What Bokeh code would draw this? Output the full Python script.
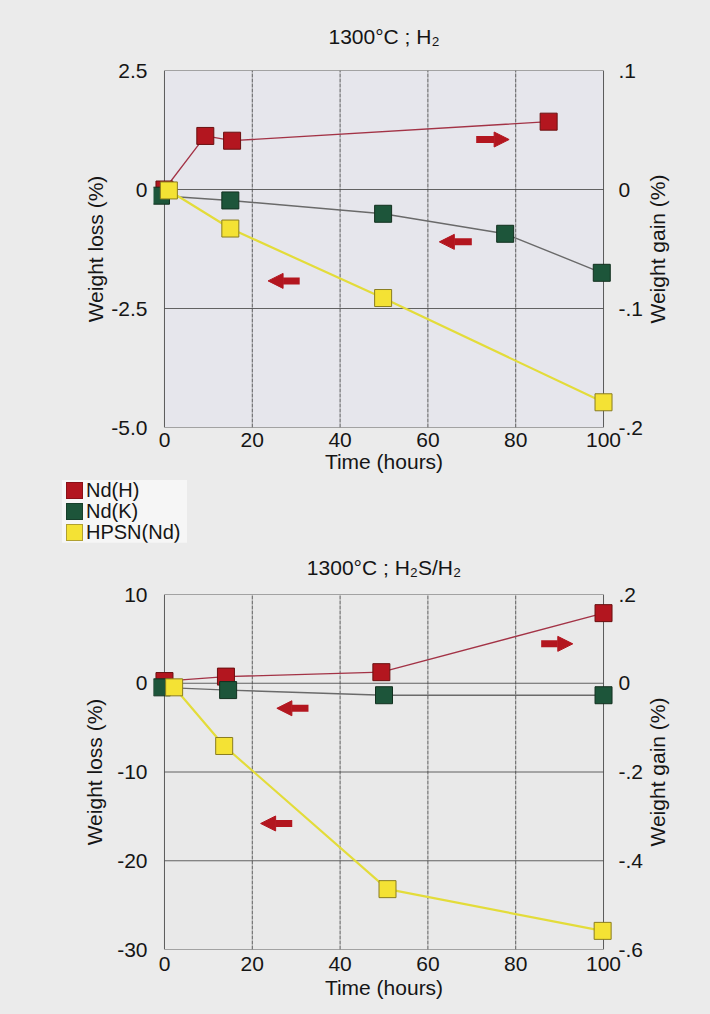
import math
from bokeh.plotting import figure
from bokeh.models import Range1d, LinearAxis, FixedTicker, Arrow, NormalHead, Div, Label
from bokeh.layouts import column
from bokeh.embed import file_html
from bokeh.resources import INLINE

# ---------------- data: panel 1 (1300°C ; H2) ----------------
h2_title = "1300°C ; H₂"
h2_ndh_t = [0, 9.3, 15.4, 87.5]
h2_ndh_gain = [0.0, 0.045, 0.041, 0.057]          # right axis, weight gain (%)
h2_ndk_t = [-0.8, 15, 49.8, 77.6, 99.6]
h2_ndk_loss = [-0.13, -0.23, -0.51, -0.93, -1.75]  # left axis, weight loss (%)
h2_hpsn_t = [1, 15, 49.8, 100]
h2_hpsn_loss = [-0.02, -0.82, -2.28, -4.47]
h2_left_ticks = [-5.0, -2.5, 0.0, 2.5]
h2_left_labels = ["-5.0", "-2.5", "0", "2.5"]
h2_right_ticks = [-0.2, -0.1, 0.0, 0.1]
h2_right_labels = ["-.2", "-.1", "0", ".1"]
# arrows: (x_start, x_end, y) in left-axis units
h2_arrows = [(71, 78.5, 1.05), (70, 62.6, -1.10), (30.8, 23.6, -1.92)]

# ---------------- data: panel 2 (1300°C ; H2S/H2) ----------------
h2s_title = "1300°C ; H₂S/H₂"
h2s_ndh_t = [0, 14, 49.4, 100]
h2s_ndh_gain = [0.005, 0.015, 0.025, 0.158]
h2s_ndk_t = [-0.6, 14.5, 50, 100]
h2s_ndk_loss = [-0.46, -0.77, -1.35, -1.35]
h2s_hpsn_t = [2.2, 13.6, 50.8, 99.8]
h2s_hpsn_loss = [-0.46, -7.07, -23.2, -27.9]
h2s_left_ticks = [-30, -20, -10, 0, 10]
h2s_left_labels = ["-30", "-20", "-10", "0", "10"]
h2s_right_ticks = [-0.6, -0.4, -0.2, 0.0, 0.2]
h2s_right_labels = ["-.6", "-.4", "-.2", "0", ".2"]
h2s_arrows = [(85.8, 93.0, 4.44), (32.8, 25.6, -2.82), (29.1, 21.9, -15.8)]

x_ticks = [0, 20, 40, 60, 80, 100]
series_names = ["Nd(H)", "Nd(K)", "HPSN(Nd)"]

RED = "#b3161f"
GREEN = "#1d553a"
YELLOW = "#f4e234"
series_fill = [RED, GREEN, YELLOW]
series_edge = ["#8a1118", "#173f2b", "#b0a030"]
FONT = "Liberation Sans"
BG = "#ebebeb"
TXT = "#151515"


def make_panel(title, ylim, rlim, lt, ll, rt, rl, ndh_t, ndh_g, ndk_t, ndk_l, hp_t, hp_l,
               arrows, height, min_top, min_bottom, title_standoff, frame_bg,
               xlab_standoff, xaxis_standoff, ylab_standoff):
    p = figure(width=710, height=height, output_backend="svg", toolbar_location=None,
               x_range=Range1d(-2.5, 102.5), y_range=Range1d(*ylim),
               min_border_left=153, min_border_right=96, min_border_top=min_top,
               min_border_bottom=min_bottom, background_fill_color=BG, border_fill_color=BG,
               outline_line_color=None)
    p.extra_y_ranges = {"gain": Range1d(*rlim)}
    p.title.text = title
    p.title.align = "center"
    p.title.vertical_align = "top"
    p.title.text_font = FONT
    p.title.text_font_size = "21px"
    p.title.text_font_style = "normal"
    p.title.text_color = TXT
    p.title.standoff = title_standoff

    p.xaxis.ticker = FixedTicker(ticks=x_ticks)
    p.xaxis.axis_label = "Time (hours)"
    p.yaxis.ticker = FixedTicker(ticks=lt)
    p.yaxis.major_label_overrides = {t: l for t, l in zip(lt, ll)}
    p.yaxis.axis_label = "Weight loss (%)"

    ra = LinearAxis(y_range_name="gain", ticker=FixedTicker(ticks=rt),
                    major_label_overrides={t: l for t, l in zip(rt, rl)})
    p.add_layout(ra, "right")

    for ax in p.xaxis + p.yaxis + [ra]:
        ax.axis_line_color = None
        ax.major_tick_out = 0
        ax.major_tick_in = 0
        ax.minor_tick_line_color = None
        ax.major_label_text_font = FONT
        ax.major_label_text_font_size = "21px"
        ax.major_label_text_color = TXT
        ax.axis_label_text_font = FONT
        ax.axis_label_text_font_size = "21px"
        ax.axis_label_text_font_style = "normal"
        ax.axis_label_text_color = TXT
    p.xaxis.major_label_standoff = xlab_standoff
    p.xaxis.axis_label_standoff = xaxis_standoff
    p.yaxis.major_label_standoff = 6
    p.yaxis.axis_label_standoff = ylab_standoff
    ra.major_label_standoff = 4
    p.grid.visible = False

    # right-hand axis title, reading bottom-to-top, centred on the frame
    p.add_layout(Label(x=11, y=(ylim[0] + ylim[1]) / 2, x_units="screen", y_units="data",
                       text="Weight gain (%)", angle=math.pi / 2, text_align="center",
                       text_baseline="middle", text_font=FONT, text_font_size="21px",
                       text_color=TXT), "right")

    # frame box and grid lines, drawn from the tick lists
    p.quad(left=[x_ticks[0]], right=[x_ticks[-1]], bottom=[lt[0]], top=[lt[-1]],
           fill_color=frame_bg, line_color="#5a5a5a", line_width=1, level="underlay")
    inner_x = x_ticks[1:-1]
    p.segment(x0=inner_x, x1=inner_x, y0=[lt[0]] * len(inner_x), y1=[lt[-1]] * len(inner_x),
              line_color="#4a4a4a", line_width=1, line_dash="4 1", line_alpha=0.9, level="underlay")
    inner_y = lt[1:-1]
    p.segment(x0=[x_ticks[0]] * len(inner_y), x1=[x_ticks[-1]] * len(inner_y), y0=inner_y, y1=inner_y,
              line_color="#4a4a4a", line_width=1, line_alpha=0.85, level="underlay")

    # lines
    p.line(ndh_t, ndh_g, y_range_name="gain", line_color="#a33346", line_width=1.3)
    p.line(ndk_t, ndk_l, line_color="#6a6a6a", line_width=1.4)
    p.line(hp_t, hp_l, line_color="#e3dc3a", line_width=2.2)
    # markers
    p.scatter(ndh_t, ndh_g, y_range_name="gain", marker="square", size=17,
              fill_color=RED, line_color="#6a1010")
    p.scatter(ndk_t, ndk_l, marker="square", size=17, fill_color=GREEN, line_color="#12301f")
    p.scatter(hp_t, hp_l, marker="square", size=17, fill_color=YELLOW, line_color="#8a7d20")

    for xs, xe, y in arrows:
        p.add_layout(Arrow(x_start=xs, x_end=xe, y_start=y, y_end=y, line_color=RED,
                           line_width=7,
                           end=NormalHead(size=15, fill_color=RED, line_color=RED, line_width=1)))
    return p


p1 = make_panel(h2_title, (-5, 2.5), (-0.2, 0.1), h2_left_ticks, h2_left_labels,
                h2_right_ticks, h2_right_labels, h2_ndh_t, h2_ndh_gain, h2_ndk_t, h2_ndk_loss,
                h2_hpsn_t, h2_hpsn_loss, h2_arrows, 480, 70, 53, 42, "#e6e6ec", 5, 0, 1)
p2 = make_panel(h2s_title, (-30, 10), (-0.6, 0.2), h2s_left_ticks, h2s_left_labels,
                h2s_right_ticks, h2s_right_labels, h2s_ndh_t, h2s_ndh_gain, h2s_ndk_t, h2s_ndk_loss,
                h2s_hpsn_t, h2s_hpsn_loss, h2s_arrows, 472, 51, 65, 27, "#e9e9e9", 7, 2, 8)

# legend strip between the two panels
rows = "".join(
    f'<div style="display:flex;align-items:center;height:21px;">'
    f'<span style="display:inline-block;width:17px;height:17px;background:{f};'
    f'box-sizing:border-box;border:1px solid {e};margin-right:3px;"></span>'
    f'<span>{n}</span></div>'
    for n, f, e in zip(series_names, series_fill, series_edge))
legend_html = (
    f'<div style="position:relative;width:710px;height:62px;background:{BG};">'
    f'<div style="position:absolute;left:62px;top:0px;padding:0 7px 0 4px;background:#f6f6f6;'
    f'font-family:\'{FONT}\';font-size:20px;line-height:21px;color:{TXT};">{rows}</div></div>')
legend_div = Div(text=legend_html, width=710, height=62, margin=(0, 0, 0, 0),
                 styles={"background-color": BG, "margin": "0", "padding": "0"})

layout = column(p1, legend_div, p2, spacing=0, styles={"background-color": BG})
open("out.html", "w").write(file_html(layout, INLINE))
